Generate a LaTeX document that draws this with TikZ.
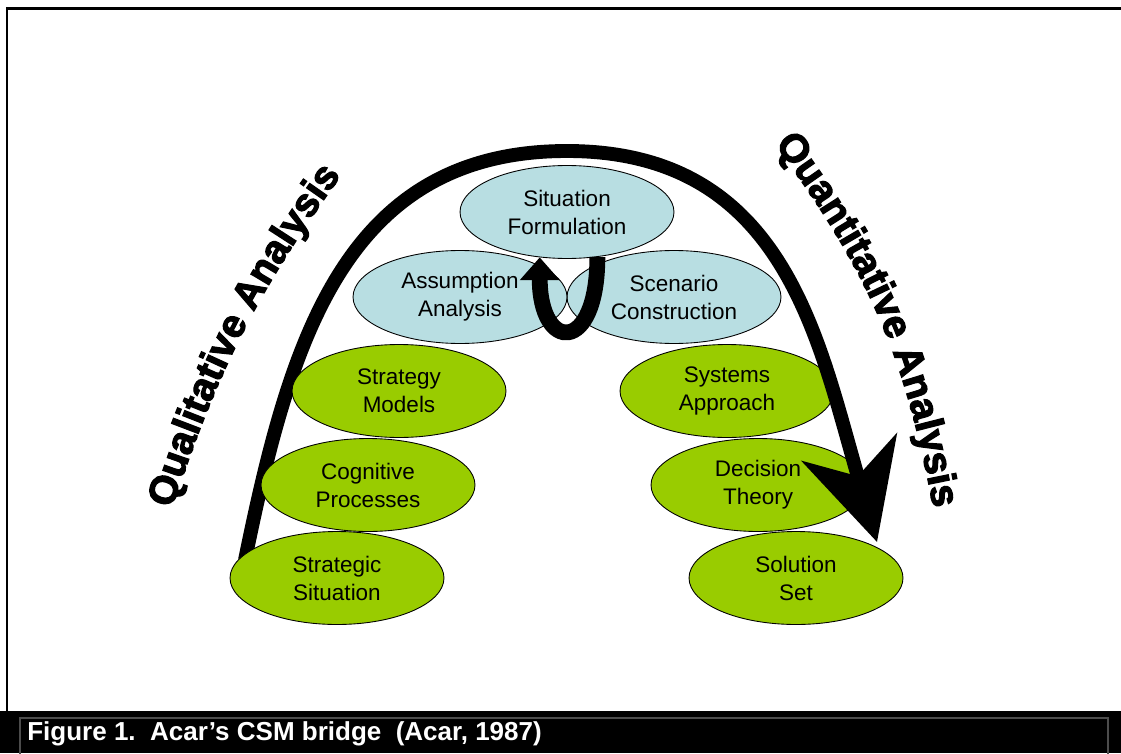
\documentclass[tikz,border=0pt]{standalone}
\usepackage{fontspec}
\setmainfont{Liberation Sans}
\newfontfamily\heavyfont{Liberation Sans}[BoldFeatures={FakeBold=3}]
\usetikzlibrary{shapes.geometric,arrows.meta,decorations.text}
\definecolor{softblue}{RGB}{184,222,226}
\definecolor{leafgreen}{RGB}{153,204,0}
\tikzset
{
    stepnode/.style  = {ellipse, draw=black, line width=0.5pt, align=center, inner sep=0pt, minimum width=4.28cm, minimum height=1.86cm, font=\fontsize{12.8}{15.9}\selectfont},
    bluestep/.style  = {stepnode, fill=softblue},
    greenstep/.style = {stepnode, fill=leafgreen},
    bridge/.style    = {line width=7.9pt, -{Stealth[length=56pt,width=56pt,inset=17pt]}},
    turnback/.style  = {line width=9pt, -{Triangle[length=13pt,width=22pt]}},
    sidelabel/.style = {decorate, decoration={text along path, text align=center, text={|\heavyfont\bfseries\fontsize{22.5}{22.5}\selectfont|#1}}}
}

\begin{document}
\begin{tikzpicture}[x=0.02cm, y=0.02cm]
\useasboundingbox (0,0) rectangle (1121,-753);

%% frame and caption
\draw[line width=1.6pt] (7,-711) -- (7,-8.5) -- (1121,-8.5);
\fill[black] (0,-711) rectangle (1121,-753);
\draw[gray!60!black, line width=0.6pt] (20,-760) -- (20,-718) -- (1108,-718) -- (1108,-760);
\node (caption) [anchor=base west, text=white, inner sep=0pt, font=\bfseries\fontsize{14.8}{14.8}\selectfont] at (27,-740) {Figure 1.\ \ Acar’s CSM bridge\ \ (Acar, 1987)};

%% quantitative side
\node (systems)  [greenstep] at (727,-391) {Systems\\Approach};
\node (decision) [greenstep] at (758,-485) {Decision\\Theory};
\node (solution) [greenstep] at (796,-578) {Solution\\Set};

%% the bridge
\coordinate (archin)  at (245,-560);
\coordinate (archtop) at (567,-151);
\coordinate (archout) at (877,-542);
\draw[bridge] (archin) .. controls (290,-340) and (345,-151) .. (archtop)
                       .. controls (785,-151) and (818,-340) .. (archout);

%% qualitative side
\node (stratmod) [greenstep] at (399,-391) {Strategy\\Models};
\node (cognit)   [greenstep] at (368,-485) {Cognitive\\Processes};
\node (stratsit) [greenstep] at (337,-578) {Strategic\\Situation};

\node (scenario) [bluestep] at (674,-297) {Scenario\\Construction};
\node (assump)   [bluestep] at (460,-297) {Assumption\\Analysis};
\node (sitform)  [bluestep] at (567,-212) {Situation\\Formulation};

\draw[turnback] (sitform.-56) .. controls +(0,-98) and +(0,-95) .. (sitform.-121);

%% side labels
\coordinate (qual1)  at (170,-515);
\coordinate (qual2)  at (345,-170);
\coordinate (quant1) at (776,-146);
\coordinate (quant2) at (933,-506);
\path[sidelabel={Qualitative Analysis}] (qual1) to[bend left=9] (qual2);
\path[sidelabel={Quantitative Analysis}] (quant1) to[bend left=13] (quant2);
\end{tikzpicture}
\end{document}
